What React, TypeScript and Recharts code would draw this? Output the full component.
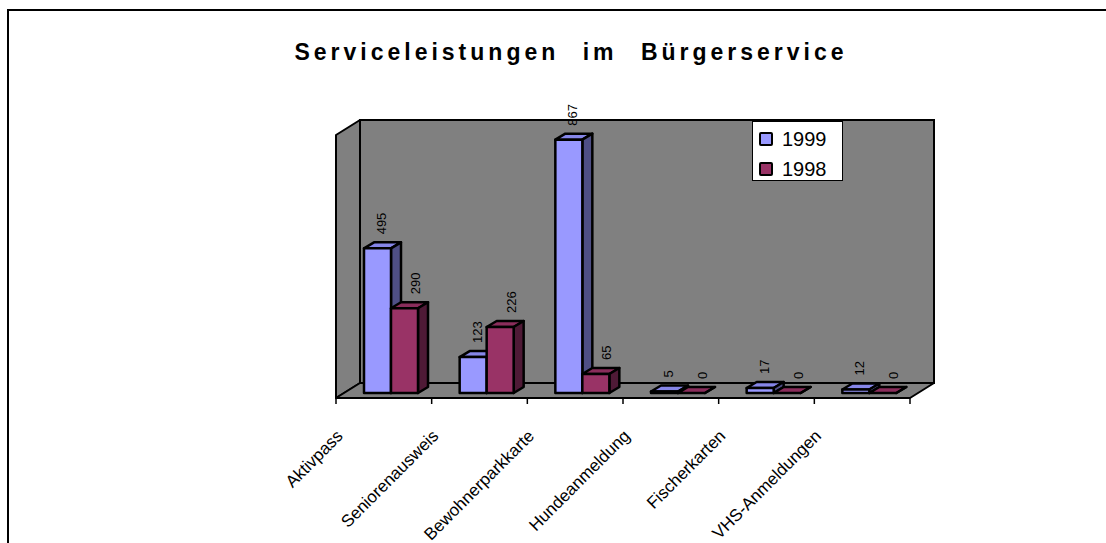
import React from 'react';
import { BarChart, Bar, XAxis, YAxis, ReferenceArea, LabelList } from 'recharts';

const categories = ['Aktivpass', 'Seniorenausweis', 'Bewohnerparkkarte', 'Hundeanmeldung', 'Fischerkarten', 'VHS-Anmeldungen'];
const values1999 = [495, 123, 867, 5, 17, 12];
const values1998 = [290, 226, 65, 0, 0, 0];
const seriesNames = ['1999', '1998'];
const yDomain = [0, 900];

const data = categories.map((name, i) => ({ name, y1999: values1999[i], y1998: values1998[i] }));

const FONT = '"Liberation Sans", Arial, sans-serif';
const WALL = '#808080';
// depth offsets of the front edge and back wall, relative to the plane the bars stand in
const FRONT = { dx: -7, dy: 5 };
const BACK = { dx: 17, dy: -10 };
const BAR_DEPTH = { dx: 10, dy: -6 };

const colors = [
  { front: '#9999FF', top: '#8686E8', side: '#4F4F86', labelShift: 4 },
  { front: '#993366', top: '#8A2D5B', side: '#4F1A36', labelShift: 11 },
];

const Walls = (props: any) => {
  const { x, y, width, height } = props;
  const b = y + height;
  const ticks = categories.map((_, i) => x + FRONT.dx + (i * width) / categories.length).concat(x + FRONT.dx + width);
  return (
    <g>
      <rect x={x + BACK.dx} y={y + BACK.dy} width={width} height={height} fill={WALL} stroke="#000" strokeWidth={2} />
      <polygon
        points={`${x + FRONT.dx},${y + FRONT.dy} ${x + BACK.dx},${y + BACK.dy} ${x + BACK.dx},${b + BACK.dy} ${x + FRONT.dx},${b + FRONT.dy}`}
        fill={WALL} stroke="#000" strokeWidth={2} strokeLinejoin="round"
      />
      <polygon
        points={`${x + FRONT.dx},${b + FRONT.dy} ${x + width + FRONT.dx},${b + FRONT.dy} ${x + width + BACK.dx},${b + BACK.dy} ${x + BACK.dx},${b + BACK.dy}`}
        fill={WALL} stroke="#000" strokeWidth={2} strokeLinejoin="round"
      />
      {ticks.map((tx, i) => (
        <line key={i} x1={tx} x2={tx} y1={b + FRONT.dy} y2={b + FRONT.dy + 6} stroke="#000" strokeWidth={1.5} />
      ))}
    </g>
  );
};

const makeBox = (c: { front: string; top: string; side: string }) => (props: any) => {
  const { x, y, width: w, height: h } = props;
  const { dx, dy } = BAR_DEPTH;
  return (
    <g stroke="#000" strokeWidth={2.5} strokeLinejoin="round">
      <polygon points={`${x},${y} ${x + dx},${y + dy} ${x + w + dx},${y + dy} ${x + w},${y}`} fill={c.top} />
      <polygon points={`${x + w},${y} ${x + w + dx},${y + dy} ${x + w + dx},${y + h + dy} ${x + w},${y + h}`} fill={c.side} />
      <rect x={x} y={y} width={w} height={h} fill={c.front} />
    </g>
  );
};

const makeValueLabel = (shift: number) => (props: any) => {
  const { x, y, width, value } = props;
  const cx = x + width / 2 + shift;
  const sy = y - 14;
  return (
    <text
      transform={`translate(${cx},${sy}) rotate(-90)`}
      textAnchor="start"
      dominantBaseline="central"
      fontSize={13}
      fontFamily={FONT}
      fill="#000"
    >
      {value}
    </text>
  );
};

const CategoryTick = (props: any) => {
  const { x, y, payload } = props;
  return (
    <text
      transform={`translate(${x - 47},${y + 44}) rotate(-45)`}
      textAnchor="end"
      fontSize={17}
      fontFamily={FONT}
      fill="#000"
    >
      {payload.value}
    </text>
  );
};

export default function App() {
  return (
    <div style={{ position: 'absolute', left: 0, top: 0, width: 1106, height: 543, background: '#fff', overflow: 'hidden' }}>
      <div
        style={{
          position: 'absolute', left: 7, top: 9, width: 1099, height: 534,
          borderLeft: '2px solid #000', borderTop: '2px solid #000', boxSizing: 'border-box',
        }}
      />
      <div
        style={{
          position: 'absolute', left: 0, top: 41, width: 1142, textAlign: 'center',
          fontFamily: FONT, fontWeight: 'bold', fontSize: 23, lineHeight: '23px',
          letterSpacing: 4, wordSpacing: 13, color: '#000',
        }}
      >
        Serviceleistungen im Bürgerservice
      </div>
      <div style={{ position: 'absolute', left: 0, top: 0 }}>
        <BarChart
          width={1106}
          height={543}
          data={data}
          margin={{ top: 130, right: 189, bottom: 110, left: 343 }}
          barGap={0}
          barSize={27}
        >
          <XAxis dataKey="name" height={40} axisLine={false} tickLine={false} tickSize={0} tickMargin={0} interval={0} tick={<CategoryTick />} />
          <YAxis hide domain={yDomain} />
          <ReferenceArea y1={yDomain[0]} y2={yDomain[1]} shape={<Walls />} ifOverflow="visible" />
          <Bar dataKey="y1999" name={seriesNames[0]} shape={makeBox(colors[0])} isAnimationActive={false}>
            <LabelList dataKey="y1999" content={makeValueLabel(colors[0].labelShift)} />
          </Bar>
          <Bar dataKey="y1998" name={seriesNames[1]} shape={makeBox(colors[1])} isAnimationActive={false}>
            <LabelList dataKey="y1998" content={makeValueLabel(colors[1].labelShift)} />
          </Bar>
        </BarChart>
      </div>
      <div
        style={{
          position: 'absolute', left: 752, top: 121, width: 91, height: 60, boxSizing: 'border-box',
          background: '#fff', border: '1.5px solid #000', fontFamily: FONT, fontSize: 20,
        }}
      >
        {seriesNames.map((n, i) => (
          <div key={n} style={{ position: 'absolute', left: 6, top: 5 + i * 30, height: 24, display: 'flex', alignItems: 'center' }}>
            <span style={{ display: 'inline-block', width: 10, height: 10, background: colors[i].front, border: '2px solid #000', borderRadius: 2 }} />
            <span style={{ marginLeft: 9, lineHeight: '24px' }}>{n}</span>
          </div>
        ))}
      </div>
    </div>
  );
}
